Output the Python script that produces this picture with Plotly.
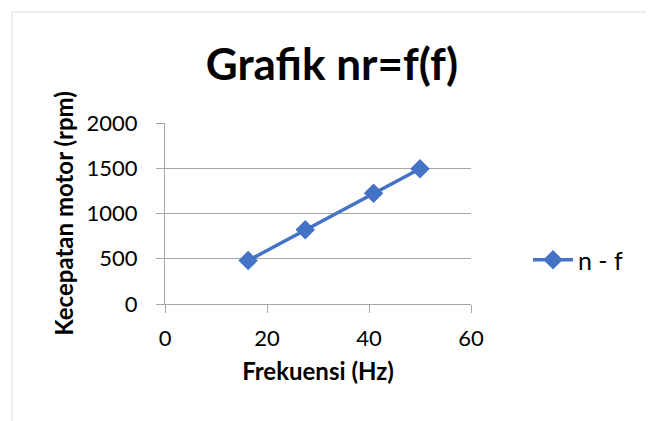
import plotly.graph_objects as go

frekuensi = [16.3, 27.5, 40.9, 50.0]
kecepatan = [480, 820, 1225, 1495]
series_name = "n - f"
title_text = "Grafik nr=f(f)"
x_title = "Frekuensi (Hz)"
y_title = "Kecepatan motor (rpm)"

# page offset of 8px (browser body margin)
OFF = 8
W, H = 646, 413
# plot area in page pixels: x 165..471, y 123..304
L, T = 165 - OFF, 123 - OFF
R, B = W - (471 - OFF), H - (304 - OFF)
pw, ph = W - L - R, H - T - B

def px_x(p):  # page px -> paper x
    return (p - OFF - L) / pw

def px_y(p):  # page px -> paper y
    return (H - B - (p - OFF)) / ph

font = "Lato"
grid = "#a6a6a6"

fig = go.Figure()
fig.add_trace(go.Scatter(
    x=frekuensi, y=kecepatan, name=series_name, mode="lines+markers",
    line=dict(color="#4472C4", width=3.5),
    marker=dict(symbol="diamond", size=15, color="#4472C4"),
))

fig.update_layout(
    width=W, height=H,
    margin=dict(l=L, r=R, t=T, b=B),
    paper_bgcolor="white", plot_bgcolor="white",
    font=dict(family=font, color="black"),
    title=dict(text="<b>" + title_text + "</b>", x=px_x(332), xanchor="center",
               xref="paper", y=1 - (65 - OFF) / H, yanchor="middle",
               font=dict(size=44, family=font)),
    showlegend=True,
    legend=dict(x=px_x(528), y=px_y(260), xanchor="left", yanchor="middle",
                font=dict(size=25, family=font), bgcolor="rgba(0,0,0,0)",
                itemwidth=40),
    xaxis=dict(range=[0, 60], tickvals=[0, 20, 40, 60], showgrid=False,
               zeroline=False, showline=True, linecolor=grid, linewidth=1,
               ticks="outside", ticklen=8, tickcolor=grid,
               tickfont=dict(size=22), ticklabelstandoff=7,
               title=dict(text="<b>" + x_title + "</b>", font=dict(size=24), standoff=12)),
    yaxis=dict(range=[0, 2000], tickvals=[0, 500, 1000, 1500, 2000],
               showgrid=True, gridcolor=grid, gridwidth=1,
               zeroline=False, showline=True, linecolor=grid, linewidth=1,
               ticks="outside", ticklen=8, tickcolor=grid,
               tickfont=dict(size=22), ticklabelstandoff=14,
               title=dict(text="<b>" + y_title + "</b>", font=dict(size=24), standoff=6)),
    shapes=[dict(type="rect", xref="paper", yref="paper",
                 x0=px_x(12), x1=px_x(652), y0=px_y(440), y1=px_y(12),
                 line=dict(color="#d9d9d9", width=1), fillcolor="rgba(0,0,0,0)",
                 layer="below")],
)

fig.write_html("out.html")
